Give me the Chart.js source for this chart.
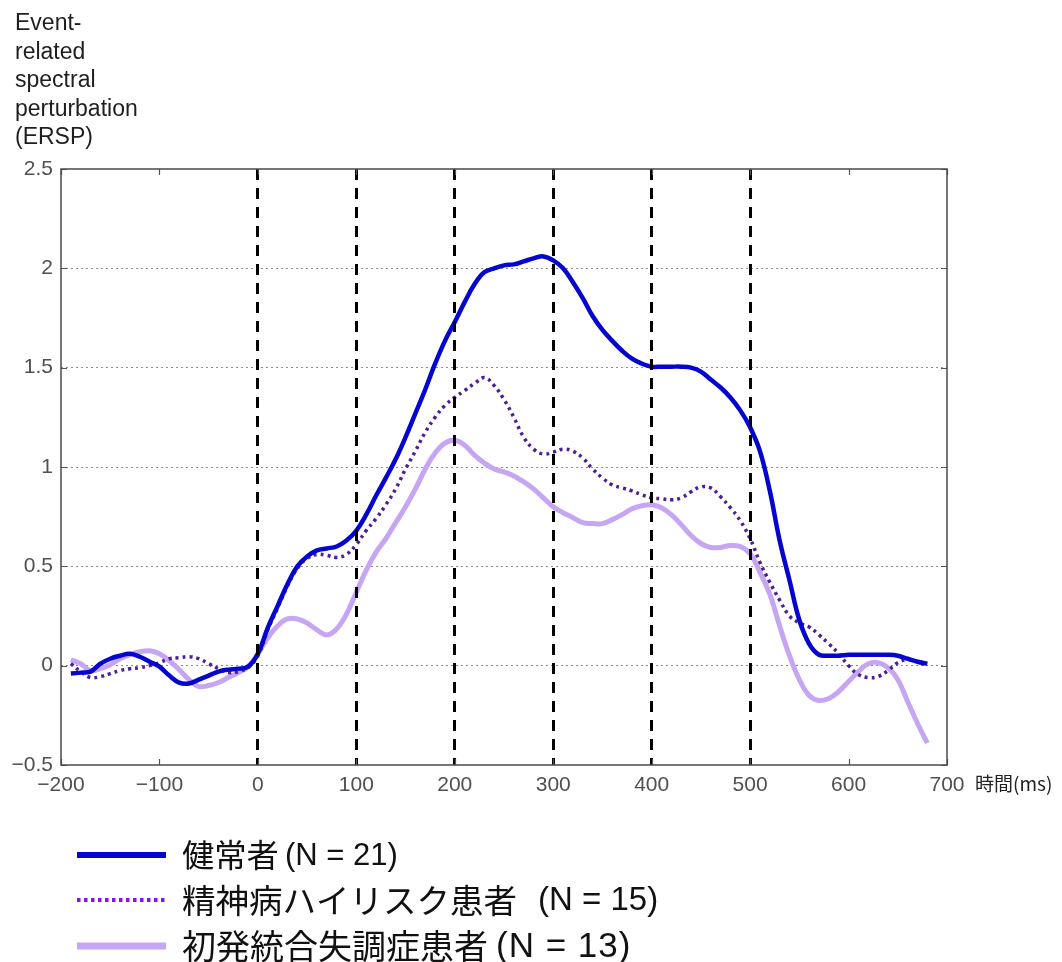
<!DOCTYPE html>
<html>
<head>
<meta charset="utf-8">
<script src="https://cdn.jsdelivr.net/npm/chart.js@4.4.0/dist/chart.umd.min.js"></script>
<style>
  html, body { margin: 0; padding: 0; background: #fff; }
</style>
</head>
<body>
<canvas id="erspChart" width="1062" height="962"></canvas>
<script>
// Time axis (ms) shared by all three groups
const timeMs = [
  -190, -180, -170, -160, -150, -140, -130, -120, -110, -100,
  -90, -80, -70, -60, -50, -40, -30, -20, -10, 0,
  10, 20, 30, 40, 50, 60, 70, 80, 90, 100,
  110, 120, 130, 140, 150, 160, 170, 180, 190, 200,
  210, 220, 230, 240, 250, 260, 270, 280, 290, 300,
  310, 320, 330, 340, 350, 360, 370, 380, 390, 400,
  410, 420, 430, 440, 450, 460, 470, 480, 490, 500,
  510, 520, 530, 540, 550, 560, 570, 580, 590, 600,
  610, 620, 630, 640, 650, 660, 670, 680
];

// ERSP per group
const healthy = [
  -0.04, -0.035, -0.03, 0.01, 0.035, 0.05, 0.06, 0.045, 0.02, -0.005,
  -0.05, -0.085, -0.09, -0.07, -0.05, -0.03, -0.02, -0.015, -0.005, 0.06,
  0.19, 0.3, 0.41, 0.5, 0.55, 0.58, 0.59, 0.6, 0.63, 0.68,
  0.76, 0.855, 0.945, 1.04, 1.15, 1.27, 1.39, 1.52, 1.635, 1.73,
  1.83, 1.92, 1.98, 2.0, 2.015, 2.02, 2.035, 2.05, 2.06, 2.04,
  2.0, 1.93, 1.85, 1.76, 1.69, 1.635, 1.585, 1.545, 1.52, 1.505,
  1.505, 1.505, 1.505, 1.5, 1.48, 1.44, 1.4, 1.35, 1.285, 1.2,
  1.08, 0.88, 0.63, 0.43, 0.23, 0.11, 0.055, 0.05, 0.05, 0.055,
  0.055, 0.055, 0.055, 0.055, 0.05, 0.035, 0.02, 0.01
];

const highRisk = [
  0.01, -0.03, -0.06, -0.055, -0.04, -0.025, -0.015, -0.01, 0.0, 0.015,
  0.035, 0.04, 0.045, 0.035, 0.01, -0.015, -0.035, -0.03, -0.01, 0.05,
  0.18, 0.29, 0.4, 0.49, 0.54, 0.56, 0.555, 0.545, 0.56, 0.61,
  0.68, 0.74, 0.81, 0.89, 0.99, 1.08, 1.175, 1.25, 1.31, 1.35,
  1.385, 1.42, 1.45, 1.41, 1.34, 1.25, 1.15, 1.09, 1.065, 1.075,
  1.09, 1.08, 1.045, 0.99, 0.945, 0.91, 0.895, 0.88, 0.86, 0.845,
  0.84, 0.835, 0.845, 0.875, 0.9, 0.895, 0.85, 0.795, 0.73, 0.64,
  0.52, 0.42, 0.33, 0.25, 0.215, 0.195, 0.155, 0.11, 0.06, 0.0,
  -0.045, -0.06, -0.055, -0.025, 0.015, 0.03, 0.02, 0.0
];

const firstEpisode = [
  0.03, 0.01, -0.025, -0.015, 0.005, 0.035, 0.055, 0.07, 0.075, 0.06,
  0.025, -0.02, -0.07, -0.105, -0.1, -0.085, -0.06, -0.035, -0.005, 0.06,
  0.14, 0.2, 0.235, 0.235, 0.215, 0.18, 0.155, 0.185, 0.26, 0.37,
  0.48, 0.57, 0.64, 0.72, 0.8, 0.89, 0.99, 1.07, 1.12, 1.135,
  1.11, 1.06, 1.02, 0.99, 0.975, 0.955, 0.925, 0.89, 0.845, 0.8,
  0.77, 0.745, 0.72, 0.715, 0.715, 0.735, 0.76, 0.79, 0.805, 0.81,
  0.795, 0.76, 0.71, 0.655, 0.615, 0.595, 0.595, 0.605, 0.6, 0.565,
  0.47, 0.36, 0.2, 0.05, -0.07, -0.15, -0.175, -0.165, -0.13, -0.08,
  -0.03, 0.01, 0.015, -0.01, -0.07, -0.18, -0.29, -0.39
];

// Event markers (dashed verticals)
const markerTimes = [0, 100, 200, 300, 400, 500];

const yTitleLines = ['Event-', 'related', 'spectral', 'perturbation', '(ERSP)'];
const xTitle = '時間(ms)';

// legend text: group name + sample size
const groupNames = ['健常者', '精神病ハイリスク患者', '初発統合失調症患者'];
const groupSizes = ['(N = 21)', '(N = 15)', '(N = 13)'];

const BLUE = '#0505cf';
const PURPLE = '#4b1f96';
const PURPLE_KEY = '#8a10f0';
const LILAC = '#c6a6f2';

const toPoints = arr => timeMs.map((t, i) => ({ x: t, y: arr[i] }));
const fmtMinus = v => String(v).replace('-', '\u2212');

const CJK_FONT = '"Noto Sans CJK JP", sans-serif';
const LATIN_FONT = '"Liberation Sans", Arial, sans-serif';

// frame, inward ticks and text overlays
const decorations = {
  id: 'decorations',
  afterDraw(chart) {
    const { ctx, chartArea: a, scales } = chart;
    const xs = scales.x, ys = scales.y;
    ctx.save();

    // inward tick marks
    ctx.strokeStyle = '#555';
    ctx.lineWidth = 1.2;
    ctx.beginPath();
    xs.ticks.forEach(t => {
      const px = Math.round(xs.getPixelForValue(t.value)) + 0.5;
      ctx.moveTo(px, a.bottom); ctx.lineTo(px, a.bottom - 6);
      ctx.moveTo(px, a.top); ctx.lineTo(px, a.top + 6);
    });
    ys.ticks.forEach(t => {
      const py = Math.round(ys.getPixelForValue(t.value)) + 0.5;
      ctx.moveTo(a.left, py); ctx.lineTo(a.left + 6, py);
      ctx.moveTo(a.right, py); ctx.lineTo(a.right - 6, py);
    });
    ctx.stroke();

    // box
    ctx.strokeStyle = '#4a4a4a';
    ctx.lineWidth = 1.5;
    ctx.strokeRect(a.left, a.top, a.right - a.left, a.bottom - a.top);

    // y axis title, stacked
    ctx.fillStyle = '#1e1e1e';
    ctx.font = '23px ' + LATIN_FONT;
    ctx.textAlign = 'left';
    ctx.textBaseline = 'middle';
    yTitleLines.forEach((s, i) => ctx.fillText(s, 15, 24 + i * 28.4));

    // x axis unit
    ctx.font = '19px ' + CJK_FONT;
    ctx.fillStyle = '#222';
    ctx.fillText(xTitle, 975, 784);

    // legend: names are fitted to a box width, sizes placed after them
    const rows = [
      { y: 855, nameW: 97, sizeX: 285, sizeFont: 31, spacing: 0 },
      { y: 900, nameW: 335, sizeX: 538, sizeFont: 33, spacing: 0 },
      { y: 946, nameW: 306, sizeX: 496, sizeFont: 35, spacing: 1 }
    ];
    const keys = [
      { color: BLUE, width: 6, dash: [] },
      { color: PURPLE_KEY, width: 4, dash: [3.5, 3.5] },
      { color: LILAC, width: 7, dash: [] }
    ];
    rows.forEach((r, i) => {
      ctx.beginPath();
      ctx.setLineDash(keys[i].dash);
      ctx.strokeStyle = keys[i].color;
      ctx.lineWidth = keys[i].width;
      ctx.moveTo(77, r.y);
      ctx.lineTo(166, r.y);
      ctx.stroke();
      ctx.setLineDash([]);

      ctx.fillStyle = '#111';
      ctx.font = '100px ' + CJK_FONT;
      const size = 100 * r.nameW / ctx.measureText(groupNames[i]).width;
      ctx.font = size.toFixed(1) + 'px ' + CJK_FONT;
      ctx.fillText(groupNames[i], 182, r.y);

      ctx.font = r.sizeFont + 'px ' + LATIN_FONT;
      ctx.letterSpacing = r.spacing + 'px';
      ctx.fillText(groupSizes[i], r.sizeX, r.y + 1);
      ctx.letterSpacing = '0px';
    });

    ctx.restore();
  }
};

Chart.defaults.font.family = LATIN_FONT;

new Chart(document.getElementById('erspChart'), {
  type: 'line',
  data: {
    datasets: [
      {
        label: groupNames[0],
        data: toPoints(healthy),
        borderColor: BLUE,
        borderWidth: 4.5,
        pointRadius: 0,
        tension: 0.4,
        fill: false
      },
      {
        label: groupNames[1],
        data: toPoints(highRisk),
        borderColor: PURPLE,
        borderWidth: 3.5,
        borderDash: [3, 4],
        pointRadius: 0,
        tension: 0.4,
        fill: false
      },
      {
        label: groupNames[2],
        data: toPoints(firstEpisode),
        borderColor: LILAC,
        borderWidth: 5,
        pointRadius: 0,
        tension: 0.4,
        fill: false
      }
    ]
  },
  options: {
    responsive: false,
    animation: false,
    layout: { padding: { left: 0, right: 115, top: 169, bottom: 157 } },
    plugins: {
      legend: { display: false },
      tooltip: { enabled: false }
    },
    scales: {
      x: {
        type: 'linear',
        min: -200,
        max: 700,
        afterFit: s => { s.height = 40; },
        ticks: {
          stepSize: 100,
          padding: 8,
          color: '#505050',
          font: { size: 21 },
          maxRotation: 0,
          callback: v => fmtMinus(v)
        },
        grid: {
          z: 1,
          drawTicks: false,
          lineWidth: 3,
          color: c => markerTimes.includes(c.tick && c.tick.value) ? '#000' : 'rgba(0,0,0,0)'
        },
        border: { display: false, dash: [11, 8] }
      },
      y: {
        min: -0.5,
        max: 2.5,
        afterFit: s => { s.width = 61; },
        ticks: {
          stepSize: 0.5,
          padding: 8,
          color: '#505050',
          font: { size: 21 },
          callback: v => fmtMinus(v)
        },
        grid: {
          drawTicks: false,
          lineWidth: 1,
          color: c => {
            const v = c.tick && c.tick.value;
            return (v > -0.5 && v < 2.5) ? '#8a8a8a' : 'rgba(0,0,0,0)';
          }
        },
        border: { display: false, dash: [2, 3] }
      }
    }
  },
  plugins: [decorations]
});
</script>
</body>
</html>
